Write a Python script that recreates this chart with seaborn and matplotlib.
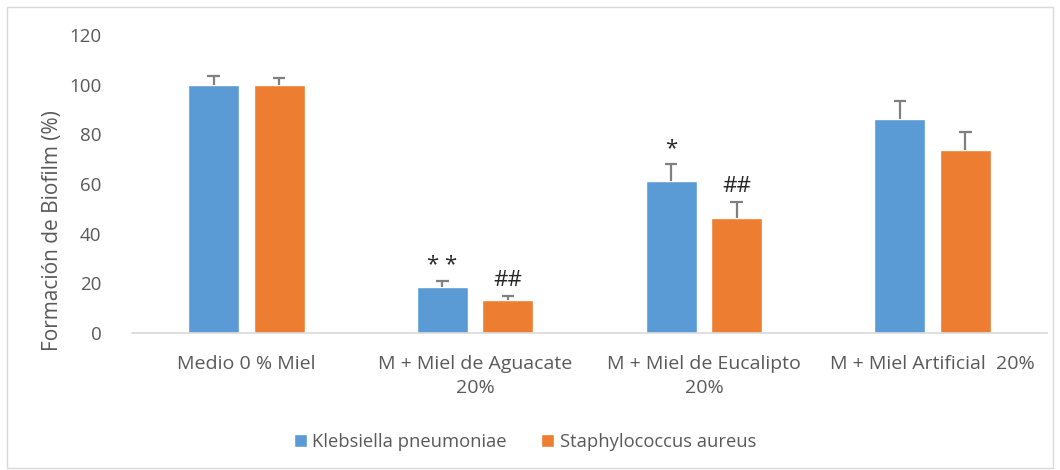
import matplotlib
matplotlib.use("Agg")
import matplotlib.pyplot as plt
from matplotlib.patches import Rectangle
import seaborn as sns
import pandas as pd

# Data
categories = ["Medio 0 % Miel", "M + Miel de Aguacate\n20%",
              "M + Miel de Eucalipto\n20%", "M + Miel Artificial  20%"]
species = ["Klebsiella pneumoniae", "Staphylococcus aureus"]
klebsiella = [100.0, 18.5, 61.2, 86.1]
staph = [100.0, 13.3, 46.4, 73.6]
klebsiella_err = [3.5, 2.6, 6.9, 7.5]
staph_err = [2.7, 1.7, 6.4, 7.5]
significance_k = ["", "* *", "*", ""]
significance_s = ["", "##", "##", ""]
yticks = [0, 20, 40, 60, 80, 100, 120]

df = pd.DataFrame({
    "Grupo": categories * 2,
    "Especie": [species[0]] * 4 + [species[1]] * 4,
    "Valor": klebsiella + staph,
})

sns.set_theme(style="white")
plt.rcParams["font.family"] = ["Open Sans", "DejaVu Sans"]

text_gray = "#595959"
colors = ["#5b9bd5", "#ed7d31"]

fig = plt.figure(figsize=(10.6, 4.7), dpi=100)
ax = fig.add_axes([132 / 1060, 1 - 333 / 470, (1047 - 132) / 1060, (333 - 35) / 470])

sns.barplot(data=df, x="Grupo", y="Valor", hue="Especie", palette=colors,
            width=0.572, gap=0.22, errorbar=None, ax=ax, saturation=1,
            legend=True)

# Plus-only error bars and significance marks on each bar
cap_half = 0.027
for cont, errs, marks in zip(ax.containers, [klebsiella_err, staph_err],
                             [significance_k, significance_s]):
    for bar, e, m in zip(cont, errs, marks):
        xc = bar.get_x() + bar.get_width() / 2
        h = bar.get_height()
        ax.vlines(xc, h, h + e, color="#7f7f7f", linewidth=1.6, zorder=3)
        ax.hlines(h + e, xc - cap_half, xc + cap_half, color="#7f7f7f",
                  linewidth=1.6, zorder=3)
        if m:
            ax.text(xc, h + e + 2.0, m, ha="center", va="bottom",
                    fontsize=16, color="#262626")

ax.set_xlim(-0.5, 3.5)
ax.set_ylim(0, 120)
ax.set_yticks(yticks)
ax.set_yticklabels([str(t) for t in yticks], color=text_gray, fontsize=13.5)
ax.tick_params(axis="both", length=0)
ax.tick_params(axis="y", pad=22)
ax.tick_params(axis="x", pad=16)
for lbl in ax.get_xticklabels():
    lbl.set_color(text_gray)
    lbl.set_fontsize(14)
    lbl.set_linespacing(1.38)
ax.set_xlabel("")
ax.set_ylabel("")
for side in ["top", "right", "left"]:
    ax.spines[side].set_visible(False)
ax.spines["bottom"].set_color("#d9d9d9")
ax.spines["bottom"].set_linewidth(1.2)

fig.text(53 / 1060, 1 - 231 / 470, "Formación de Biofilm (%)", rotation=90,
         ha="center", va="center", color=text_gray, fontsize=15)

leg = ax.legend(loc="center", bbox_to_anchor=(525 / 1060, 1 - 442 / 470),
                bbox_transform=fig.transFigure, ncol=2, frameon=False,
                fontsize=13.2, handlelength=0.7, handleheight=0.7,
                handletextpad=0.3, columnspacing=1.9)
for t in leg.get_texts():
    t.set_color(text_gray)

# Chart area border
fig.patches.append(Rectangle((7 / 1060, 2 / 470), 1046 / 1060, 461 / 470,
                             transform=fig.transFigure, fill=False,
                             edgecolor="#d9d9d9", linewidth=1.0))

fig.savefig("out.png", dpi=100)
